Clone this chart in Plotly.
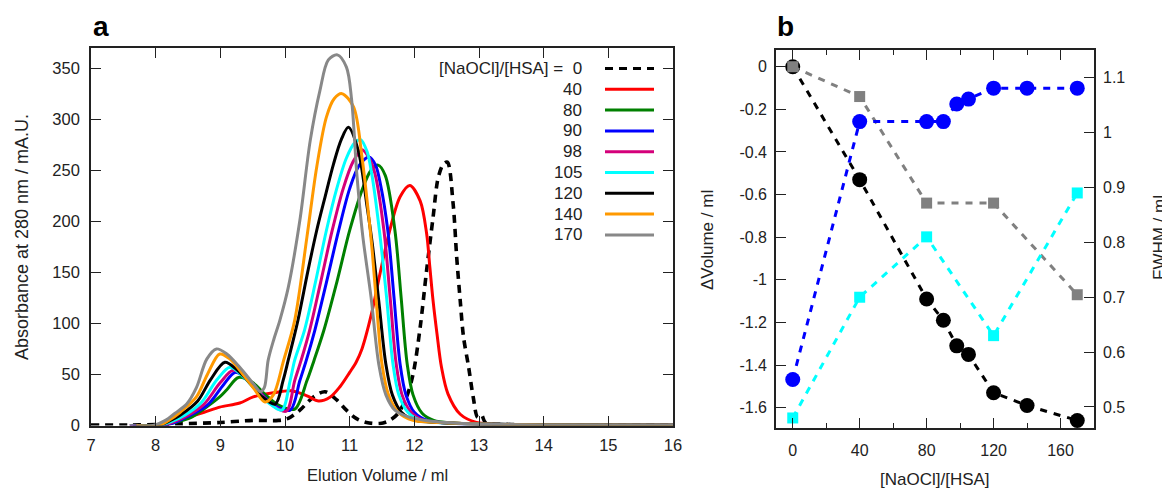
import plotly.graph_objects as go

# The page body adds an 8 px margin; the figure is sized to fill the rest of the 1170x488 window.
PAGE_OFF = 8
W, H = 1170 - PAGE_OFF, 488 - PAGE_OFF

# ---------------- panel a: elution profiles ----------------
ratios = [0, 40, 80, 90, 98, 105, 120, 140, 170]

vol_0 = [7.0, 7.6, 8.0, 8.4, 9.0, 9.5, 9.9, 10.05, 10.23, 10.44, 10.62, 10.8, 10.95, 11.1, 11.26, 11.47,
         11.62, 11.75, 11.88, 11.98, 12.09, 12.19, 12.29, 12.37, 12.45, 12.51, 12.6, 12.655, 12.71, 12.76,
         12.84, 12.91, 12.98, 13.04, 13.1, 13.5, 14.5, 16.0]
abs_0 = [0.5, 0.5, 1, 1.6, 3, 5, 5, 7, 15, 28, 33, 25, 15, 7, 3, 2,
         5, 12, 28, 50, 96, 152, 204, 243, 256, 258, 217, 165, 122, 87,
         57, 28, 8, 10, 3, 1, 0.5, 0.3]

vol_40 = [7.6, 8.0, 8.2, 8.48, 8.75, 8.99, 9.3, 9.51, 9.82, 10.1, 10.34, 10.52, 10.7, 10.85, 11.0, 11.1,
          11.19, 11.34, 11.47, 11.62, 11.78, 11.93, 12.09, 12.19, 12.24, 12.29, 12.35, 12.42, 12.52, 12.71,
          12.96, 13.3, 14.0, 16.0]
abs_40 = [0, 0, 3, 8, 13, 18, 22, 28, 32, 34, 29, 24, 28, 38, 52, 62,
          75, 110, 149, 191, 224, 235, 220, 188, 155, 122, 90, 57, 31, 11,
          3, 1, 0.5, 0.3]

vol_80 = [7.7, 8.1, 8.3, 8.55, 8.74, 8.99, 9.1, 9.28, 9.5, 9.7, 9.9, 10.15, 10.34, 10.45, 10.6, 10.8,
          11.0, 11.2, 11.33, 11.44, 11.55, 11.7, 11.795, 11.89, 11.98, 12.12, 12.3, 12.6, 13.0, 14.0, 16.0]
abs_80 = [0, 0, 3, 8, 16, 28, 35, 47, 42, 30, 20, 16, 44, 64, 93, 140,
          191, 232, 250, 255, 245, 191, 126, 60, 30, 12, 5, 2.5, 1.5, 0.5, 0.3]

vol_90 = [7.6, 8.1, 8.3, 8.5, 8.8, 9.05, 9.23, 9.45, 9.65, 9.85, 10.08, 10.23, 10.33, 10.46, 10.64, 10.83,
          11.0, 11.15, 11.3, 11.4, 11.48, 11.59, 11.685, 11.78, 11.87, 12.0, 12.2, 12.5, 13.0, 14.0, 16.0]
abs_90 = [0, 0, 3, 9, 20, 40, 52, 44, 30, 19, 15, 44, 64, 93, 140, 191,
          232, 255, 263, 255, 235, 191, 126, 60, 30, 13, 5, 2.5, 1.5, 0.5, 0.3]

vol_98 = [7.75, 8.1, 8.3, 8.5, 8.75, 9.0, 9.2, 9.4, 9.6, 9.8, 10.02, 10.15, 10.25, 10.38, 10.55, 10.73,
          10.9, 11.05, 11.19, 11.3, 11.39, 11.53, 11.625, 11.72, 11.81, 11.95, 12.15, 12.5, 13.0, 14.0, 16.0]
abs_98 = [0, 0, 4, 10, 21, 42, 54, 46, 33, 20, 14, 44, 64, 93, 140, 191,
          232, 258, 270, 262, 247, 191, 126, 60, 30, 13, 5, 2.5, 1.5, 0.5, 0.3]

vol_105 = [7.75, 8.05, 8.25, 8.45, 8.7, 8.95, 9.15, 9.35, 9.55, 9.75, 9.95, 10.08, 10.15, 10.3, 10.47, 10.64,
           10.8, 10.95, 11.08, 11.17, 11.27, 11.34, 11.46, 11.57, 11.67, 11.76, 11.9, 12.1, 12.5, 13.0, 14.0, 16.0]
abs_105 = [0, 0, 4, 10, 22, 45, 57, 48, 35, 22, 15, 44, 64, 93, 140, 191,
           232, 262, 277, 280, 268, 247, 191, 126, 60, 30, 13, 5, 2.5, 1.5, 0.5, 0.3]

vol_120 = [7.7, 8.05, 8.2, 8.4, 8.65, 8.85, 9.07, 9.25, 9.45, 9.65, 9.85, 9.97, 10.05, 10.2, 10.35, 10.49,
           10.62, 10.75, 10.87, 10.98, 11.13, 11.27, 11.35, 11.45, 11.56, 11.66, 11.8, 12.02, 12.4, 13.0, 14.0, 16.0]
abs_120 = [0, 0, 4, 11, 24, 45, 62, 55, 42, 28, 21, 44, 64, 103, 150, 191,
           224, 256, 280, 292, 270, 214, 178, 122, 60, 30, 13, 5, 3, 1.5, 0.5, 0.3]

vol_140 = [7.7, 8.05, 8.2, 8.38, 8.63, 8.8, 8.99, 9.15, 9.35, 9.51, 9.69, 9.82, 9.98, 10.15, 10.34, 10.49,
           10.64, 10.76, 10.88, 11.06, 11.19, 11.28, 11.35, 11.42, 11.5, 11.6, 11.75, 11.98, 12.4, 13.0, 14.0, 16.0]
abs_140 = [0, 0, 5, 13, 28, 50, 70, 65, 50, 37, 23, 30, 64, 103, 185, 253,
           302, 320, 325, 312, 263, 214, 170, 115, 60, 30, 13, 5, 3, 1.5, 0.5, 0.3]

vol_170 = [7.6, 7.96, 8.15, 8.3, 8.48, 8.63, 8.79, 8.94, 9.1, 9.3, 9.51, 9.62, 9.68, 9.74, 9.83, 9.92,
           10.05, 10.23, 10.39, 10.54, 10.67, 10.81, 10.95, 11.03, 11.11, 11.2, 11.33, 11.45, 11.56, 11.7,
           11.93, 12.3, 13.0, 14.0, 16.0]
abs_170 = [0, 0, 5, 12, 21, 37, 65, 75, 70, 57, 41, 33, 37, 64, 85, 103,
           135, 201, 279, 328, 358, 363, 351, 319, 247, 187, 126, 60, 30, 15,
           8, 4, 1.5, 0.5, 0.3]

vols = [vol_0, vol_40, vol_80, vol_90, vol_98, vol_105, vol_120, vol_140, vol_170]
absorb = [abs_0, abs_40, abs_80, abs_90, abs_98, abs_105, abs_120, abs_140, abs_170]
colors_a = ["#000000", "#ff0000", "#008000", "#0000ff", "#d4007a", "#00ffff", "#000000", "#ff9900", "#888888"]
dashes_a = ["8px,6px"] + ["solid"] * 8

# ---------------- panel b ----------------
ratio_main = [0, 40, 80, 90, 98, 105, 120, 140, 170]
dvol_main = [0, -0.53, -1.09, -1.19, -1.31, -1.35, -1.53, -1.59, -1.66]
fwhm_main = [0.55, 1.02, 1.02, 1.02, 1.052, 1.061, 1.081, 1.081, 1.081]
ratio_minor = [0, 40, 80, 120, 170]
dvol_minor = [0, -0.14, -0.64, -0.64, -1.07]
fwhm_minor = [0.48, 0.70, 0.81, 0.63, 0.89]

dv_ticks = [0, -0.2, -0.4, -0.6, -0.8, -1, -1.2, -1.4, -1.6]
dv_ticktext = ["0", "-0.2", "-0.4", "-0.6", "-0.8", "-1", "-1.2", "-1.4", "-1.6"]
fw_ticks = [0.5, 0.6, 0.7, 0.8, 0.9, 1.0, 1.1]
fw_ticktext = ["0.5", "0.6", "0.7", "0.8", "0.9", "1", "1.1"]

FONT = "Liberation Sans, Arial, sans-serif"
AX = "#222222"

fig = go.Figure()

for v, a, c, d, r in zip(vols, absorb, colors_a, dashes_a, ratios):
    fig.add_trace(go.Scatter(x=v, y=a, mode="lines", name=str(r),
                             line=dict(color=c, width=3.6 if d != "solid" else 3, dash=d,
                                       shape="spline", smoothing=0.9),
                             xaxis="x", yaxis="y", showlegend=False))

dash_b = "7px,7px"
fig.add_trace(go.Scatter(x=ratio_main, y=dvol_main, mode="lines+markers", xaxis="x2", yaxis="y2",
                         line=dict(color="#000000", width=3, dash=dash_b),
                         marker=dict(symbol="circle", size=15, color="#000000"), showlegend=False))
fig.add_trace(go.Scatter(x=ratio_minor, y=dvol_minor, mode="lines+markers", xaxis="x2", yaxis="y2",
                         line=dict(color="#808080", width=3, dash=dash_b),
                         marker=dict(symbol="square", size=11, color="#808080"), showlegend=False))
fig.add_trace(go.Scatter(x=ratio_main, y=fwhm_main, mode="lines+markers", xaxis="x2", yaxis="y3",
                         line=dict(color="#0000ff", width=3, dash=dash_b),
                         marker=dict(symbol="circle", size=15, color="#0000ff"), showlegend=False))
fig.add_trace(go.Scatter(x=ratio_minor, y=fwhm_minor, mode="lines+markers", xaxis="x2", yaxis="y3",
                         line=dict(color="#00ffff", width=3, dash=dash_b),
                         marker=dict(symbol="square", size=11, color="#00ffff"), showlegend=False))

# window pixel -> paper coordinates
def px(xp):
    return (xp - PAGE_OFF) / W

def py(yp):
    return 1 - (yp - PAGE_OFF) / H

def axstyle(fs):
    return dict(showline=True, linecolor=AX, linewidth=1.6, ticks="inside", tickcolor=AX, tickwidth=1.4,
                showgrid=False, zeroline=False, automargin=False,
                tickfont=dict(family=FONT, size=fs, color="#222222"))

fig.update_layout(
    width=W, height=H, margin=dict(l=0, r=0, t=0, b=0, autoexpand=False),
    paper_bgcolor="white", plot_bgcolor="white", showlegend=False,
    xaxis=dict(domain=[px(91), px(673)], range=[7, 16], anchor="y", tickvals=list(range(7, 17)),
               ticklen=10, mirror="ticks", ticklabelstandoff=4, **axstyle(16.5)),
    yaxis=dict(domain=[py(425.5), py(47.7)], range=[0, 370], anchor="x", tickvals=list(range(0, 351, 50)),
               ticklen=10, mirror="ticks", ticklabelstandoff=6, **axstyle(16.5)),
    xaxis2=dict(domain=[px(776), px(1094)], range=[-10, 180], anchor="y2", tickvals=[0, 40, 80, 120, 160],
                ticklen=10, mirror="ticks", ticklabelstandoff=7,
                minor=dict(tickvals=[20, 60, 100, 140], ticklen=5, ticks="inside", tickcolor=AX),
                **axstyle(16)),
    yaxis2=dict(domain=[py(428), py(50)], range=[-1.6954, 0.0784], anchor="x2", tickvals=dv_ticks,
                ticktext=dv_ticktext, ticklen=10, ticklabelstandoff=4, **axstyle(16)),
    yaxis3=dict(range=[0.4617, 1.1505], overlaying="y2", anchor="x2", side="right", tickvals=fw_ticks,
                ticktext=fw_ticktext, ticklen=10, ticklabelstandoff=4, **axstyle(16)),
)

# axis titles and panel labels
tfont = dict(family=FONT, size=17, color="#222222")
ann = [
    dict(text="Elution Volume / ml", x=px(377), y=py(475), xref="paper", yref="paper",
         xanchor="center", yanchor="middle", showarrow=False, font=dict(family=FONT, size=16.5, color="#222222")),
    dict(text="Absorbance at 280 nm / mA.U.", x=px(22), y=py(237), xref="paper", yref="paper",
         xanchor="center", yanchor="middle", showarrow=False, font=dict(family=FONT, size=18, color="#222222"),
         textangle=-90),
    dict(text="[NaOCl]/[HSA]", x=px(935), y=py(479), xref="paper", yref="paper",
         xanchor="center", yanchor="middle", showarrow=False, font=tfont),
    dict(text="ΔVolume / ml", x=px(707), y=py(240), xref="paper", yref="paper",
         xanchor="center", yanchor="middle", showarrow=False, font=tfont, textangle=-90),
    dict(text="FWHM / ml", x=px(1159), y=py(238), xref="paper", yref="paper",
         xanchor="center", yanchor="middle", showarrow=False, font=tfont, textangle=-90),
    dict(text="<b>a</b>", x=px(91), y=py(26.5), xref="paper", yref="paper",
         xanchor="left", yanchor="middle", showarrow=False, font=dict(family=FONT, size=28, color="#000")),
    dict(text="<b>b</b>", x=px(775), y=py(26.5), xref="paper", yref="paper",
         xanchor="left", yanchor="middle", showarrow=False, font=dict(family=FONT, size=28, color="#000")),
]

# custom legend (text left of the line sample, as in the original)
shapes = []
for i, (r, c, d) in enumerate(zip(ratios, colors_a, dashes_a)):
    yrow = 68.5 + 20.8 * i
    label = "[NaOCl]/[HSA] =  " + str(r) if i == 0 else str(r)
    ann.append(dict(text=label, x=px(584), y=py(yrow), xref="paper", yref="paper",
                    xanchor="right", yanchor="middle", showarrow=False,
                    font=dict(family=FONT, size=17, color="#222222")))
    shapes.append(dict(type="line", xref="paper", yref="paper", x0=px(605), x1=px(654),
                       y0=py(yrow), y1=py(yrow),
                       line=dict(color=c, width=3, dash=d)))

fig.update_layout(annotations=ann, shapes=shapes)
fig.write_html("out.html")
